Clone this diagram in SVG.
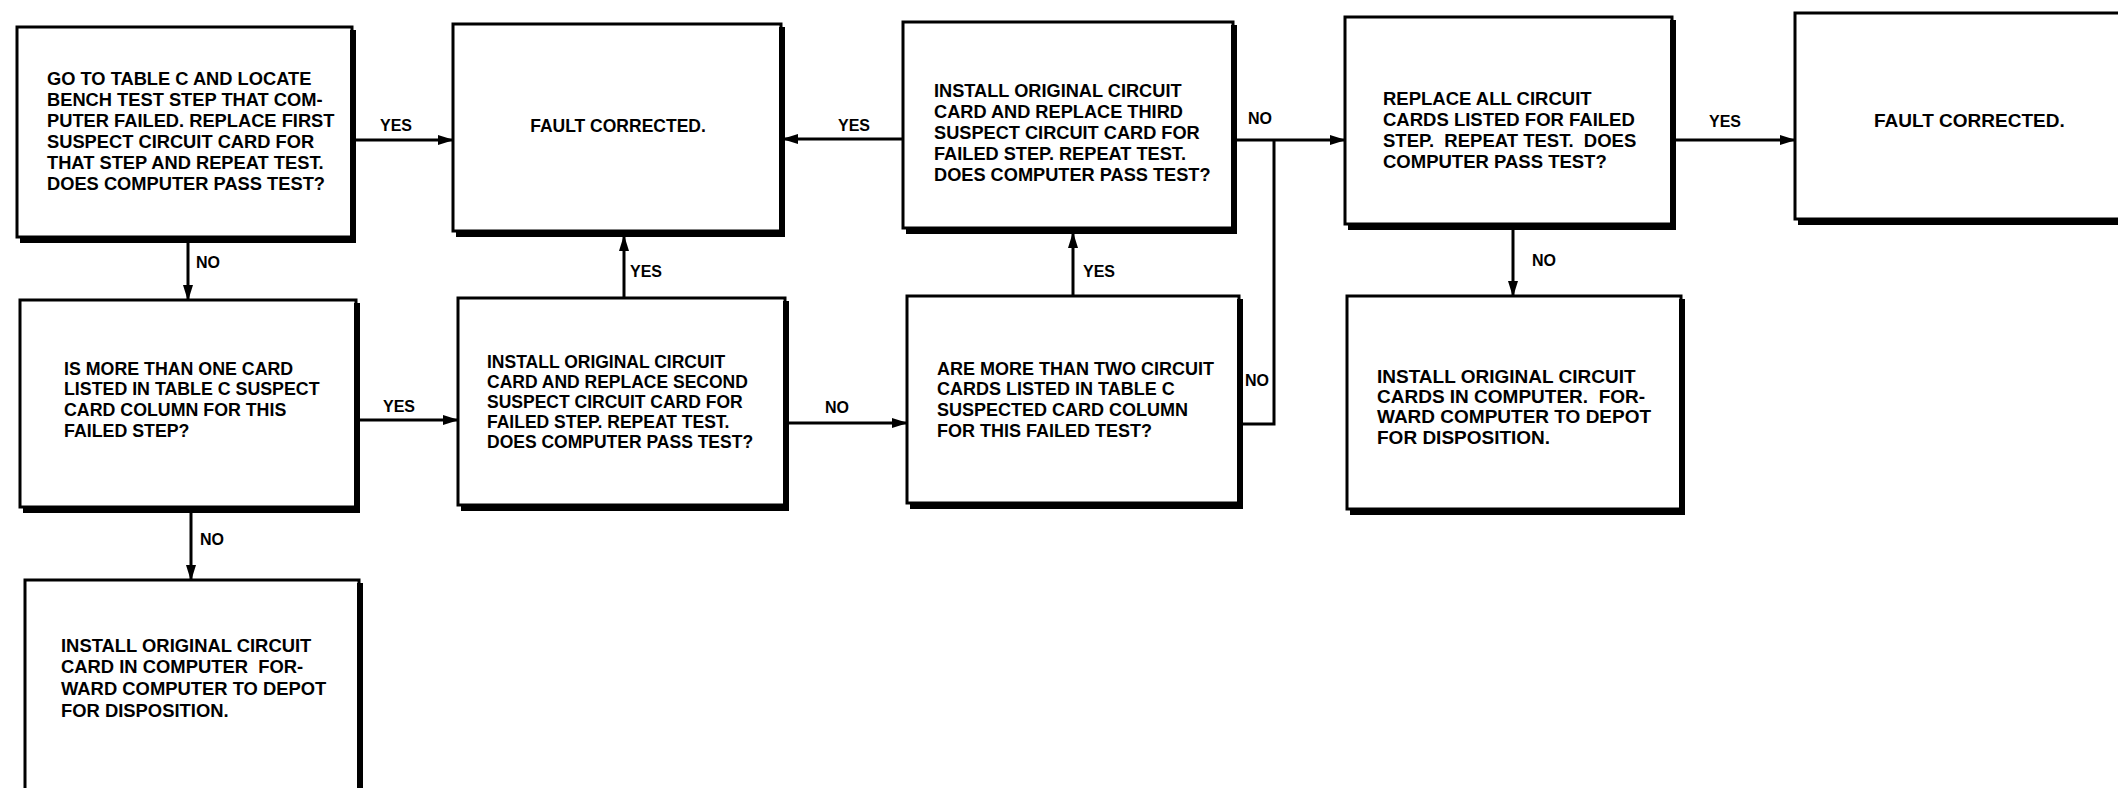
<svg xmlns="http://www.w3.org/2000/svg" width="2118" height="788" viewBox="0 0 2118 788">
<style>
.box{fill:#fff;stroke:#000;stroke-width:3}
.sh{fill:none;stroke:#000;stroke-width:6;stroke-linejoin:miter}
.t{font-family:"Liberation Sans",Arial,sans-serif;font-weight:bold;font-size:17.5px;fill:#000;white-space:pre}
.c{text-anchor:middle}
.lbl{font-family:"Liberation Sans",Arial,sans-serif;font-weight:bold;font-size:16px;fill:#000}
.ln{fill:none;stroke:#000;stroke-width:3}
.arr{marker-end:url(#ah)}
#nodeA .t{font-size:18.3px}
#nodeC .t{font-size:18.2px}
#nodeD .t{font-size:18.5px}
#nodeE .t{font-size:19px}
#nodeF .t{font-size:17.8px}
#nodeH .t{font-size:18px}
#nodeI .t{font-size:19px}
#nodeJ .t{font-size:18.4px}
</style>
<defs>
<marker id="ah" viewBox="0 0 16 10" refX="15" refY="5" markerWidth="16" markerHeight="10" markerUnits="userSpaceOnUse" orient="auto">
<path d="M0,0 L16,5 L0,10 Z" fill="#000"/>
</marker>
</defs>
<rect width="2118" height="788" fill="#fff"/>

<g id="connectors">
<line class="ln arr" x1="353" y1="140" x2="453" y2="140"/>
<text class="lbl" x="380" y="131">YES</text>
<line class="ln arr" x1="903" y1="139" x2="783" y2="139"/>
<text class="lbl" x="838" y="131">YES</text>
<line class="ln arr" x1="1235" y1="140" x2="1345" y2="140"/>
<text class="lbl" x="1248" y="124">NO</text>
<polyline class="ln" points="1240,424 1274,424 1274,140"/>
<text class="lbl" x="1245" y="386">NO</text>
<line class="ln arr" x1="1675" y1="140" x2="1795" y2="140"/>
<text class="lbl" x="1709" y="127">YES</text>
<line class="ln arr" x1="188" y1="241" x2="188" y2="300"/>
<text class="lbl" x="196" y="268">NO</text>
<line class="ln arr" x1="358" y1="420" x2="458" y2="420"/>
<text class="lbl" x="383" y="412">YES</text>
<line class="ln arr" x1="191" y1="511" x2="191" y2="580"/>
<text class="lbl" x="200" y="545">NO</text>
<line class="ln arr" x1="624" y1="298" x2="624" y2="236"/>
<text class="lbl" x="630" y="277">YES</text>
<line class="ln arr" x1="787" y1="423" x2="907" y2="423"/>
<text class="lbl" x="825" y="413">NO</text>
<line class="ln arr" x1="1073" y1="296" x2="1073" y2="233"/>
<text class="lbl" x="1083" y="277">YES</text>
<line class="ln arr" x1="1513" y1="229" x2="1513" y2="296"/>
<text class="lbl" x="1532" y="266">NO</text>
</g>

<g id="nodeA">
<rect class="box" x="17" y="27" width="335" height="210"/>
<path class="sh" d="M353,30 V240 H20"/>
<text class="t" x="47" y="85">GO TO TABLE C AND LOCATE</text>
<text class="t" x="47" y="106">BENCH TEST STEP THAT COM-</text>
<text class="t" x="47" y="127">PUTER FAILED. REPLACE FIRST</text>
<text class="t" x="47" y="148">SUSPECT CIRCUIT CARD FOR</text>
<text class="t" x="47" y="169">THAT STEP AND REPEAT TEST.</text>
<text class="t" x="47" y="190">DOES COMPUTER PASS TEST?</text>
</g>

<g id="nodeB">
<rect class="box" x="453" y="24" width="328" height="207"/>
<path class="sh" d="M782,27 V234 H456"/>
<text class="t c" x="618" y="132">FAULT CORRECTED.</text>
</g>

<g id="nodeC">
<rect class="box" x="903" y="22" width="330" height="206"/>
<path class="sh" d="M1234,25 V231 H906"/>
<text class="t" x="934" y="97">INSTALL ORIGINAL CIRCUIT</text>
<text class="t" x="934" y="118">CARD AND REPLACE THIRD</text>
<text class="t" x="934" y="139">SUSPECT CIRCUIT CARD FOR</text>
<text class="t" x="934" y="160">FAILED STEP. REPEAT TEST.</text>
<text class="t" x="934" y="181">DOES COMPUTER PASS TEST?</text>
</g>

<g id="nodeD">
<rect class="box" x="1345" y="17" width="327" height="207"/>
<path class="sh" d="M1673,20 V227 H1348"/>
<text class="t" x="1383" y="105">REPLACE ALL CIRCUIT</text>
<text class="t" x="1383" y="126">CARDS LISTED FOR FAILED</text>
<text class="t" x="1383" y="147">STEP.  REPEAT TEST.  DOES</text>
<text class="t" x="1383" y="168">COMPUTER PASS TEST?</text>
</g>

<g id="nodeE">
<rect class="box" x="1795" y="13" width="340" height="206"/>
<path class="sh" d="M1798,222 H2130"/>
<text class="t" x="1874" y="127">FAULT CORRECTED.</text>
</g>

<g id="nodeF">
<rect class="box" x="20" y="300" width="336" height="207"/>
<path class="sh" d="M357,303 V510 H23"/>
<text class="t" x="64" y="375">IS MORE THAN ONE CARD</text>
<text class="t" x="64" y="395">LISTED IN TABLE C SUSPECT</text>
<text class="t" x="64" y="416">CARD COLUMN FOR THIS</text>
<text class="t" x="64" y="437">FAILED STEP?</text>
</g>

<g id="nodeG">
<rect class="box" x="458" y="298" width="327" height="207"/>
<path class="sh" d="M786,301 V508 H461"/>
<text class="t" x="487" y="368">INSTALL ORIGINAL CIRCUIT</text>
<text class="t" x="487" y="388">CARD AND REPLACE SECOND</text>
<text class="t" x="487" y="408">SUSPECT CIRCUIT CARD FOR</text>
<text class="t" x="487" y="428">FAILED STEP. REPEAT TEST.</text>
<text class="t" x="487" y="448">DOES COMPUTER PASS TEST?</text>
</g>

<g id="nodeH">
<rect class="box" x="907" y="296" width="332" height="207"/>
<path class="sh" d="M1240,299 V506 H910"/>
<text class="t" x="937" y="375">ARE MORE THAN TWO CIRCUIT</text>
<text class="t" x="937" y="395">CARDS LISTED IN TABLE C</text>
<text class="t" x="937" y="416">SUSPECTED CARD COLUMN</text>
<text class="t" x="937" y="437">FOR THIS FAILED TEST?</text>
</g>

<g id="nodeI">
<rect class="box" x="1347" y="296" width="334" height="213"/>
<path class="sh" d="M1682,299 V512 H1350"/>
<text class="t" x="1377" y="383">INSTALL ORIGINAL CIRCUIT</text>
<text class="t" x="1377" y="403">CARDS IN COMPUTER.  FOR-</text>
<text class="t" x="1377" y="423">WARD COMPUTER TO DEPOT</text>
<text class="t" x="1377" y="444">FOR DISPOSITION.</text>
</g>

<g id="nodeJ">
<rect class="box" x="25" y="580" width="334" height="240"/>
<path class="sh" d="M360,583 V800"/>
<text class="t" x="61" y="652">INSTALL ORIGINAL CIRCUIT</text>
<text class="t" x="61" y="673">CARD IN COMPUTER  FOR-</text>
<text class="t" x="61" y="695">WARD COMPUTER TO DEPOT</text>
<text class="t" x="61" y="717">FOR DISPOSITION.</text>
</g>
</svg>
